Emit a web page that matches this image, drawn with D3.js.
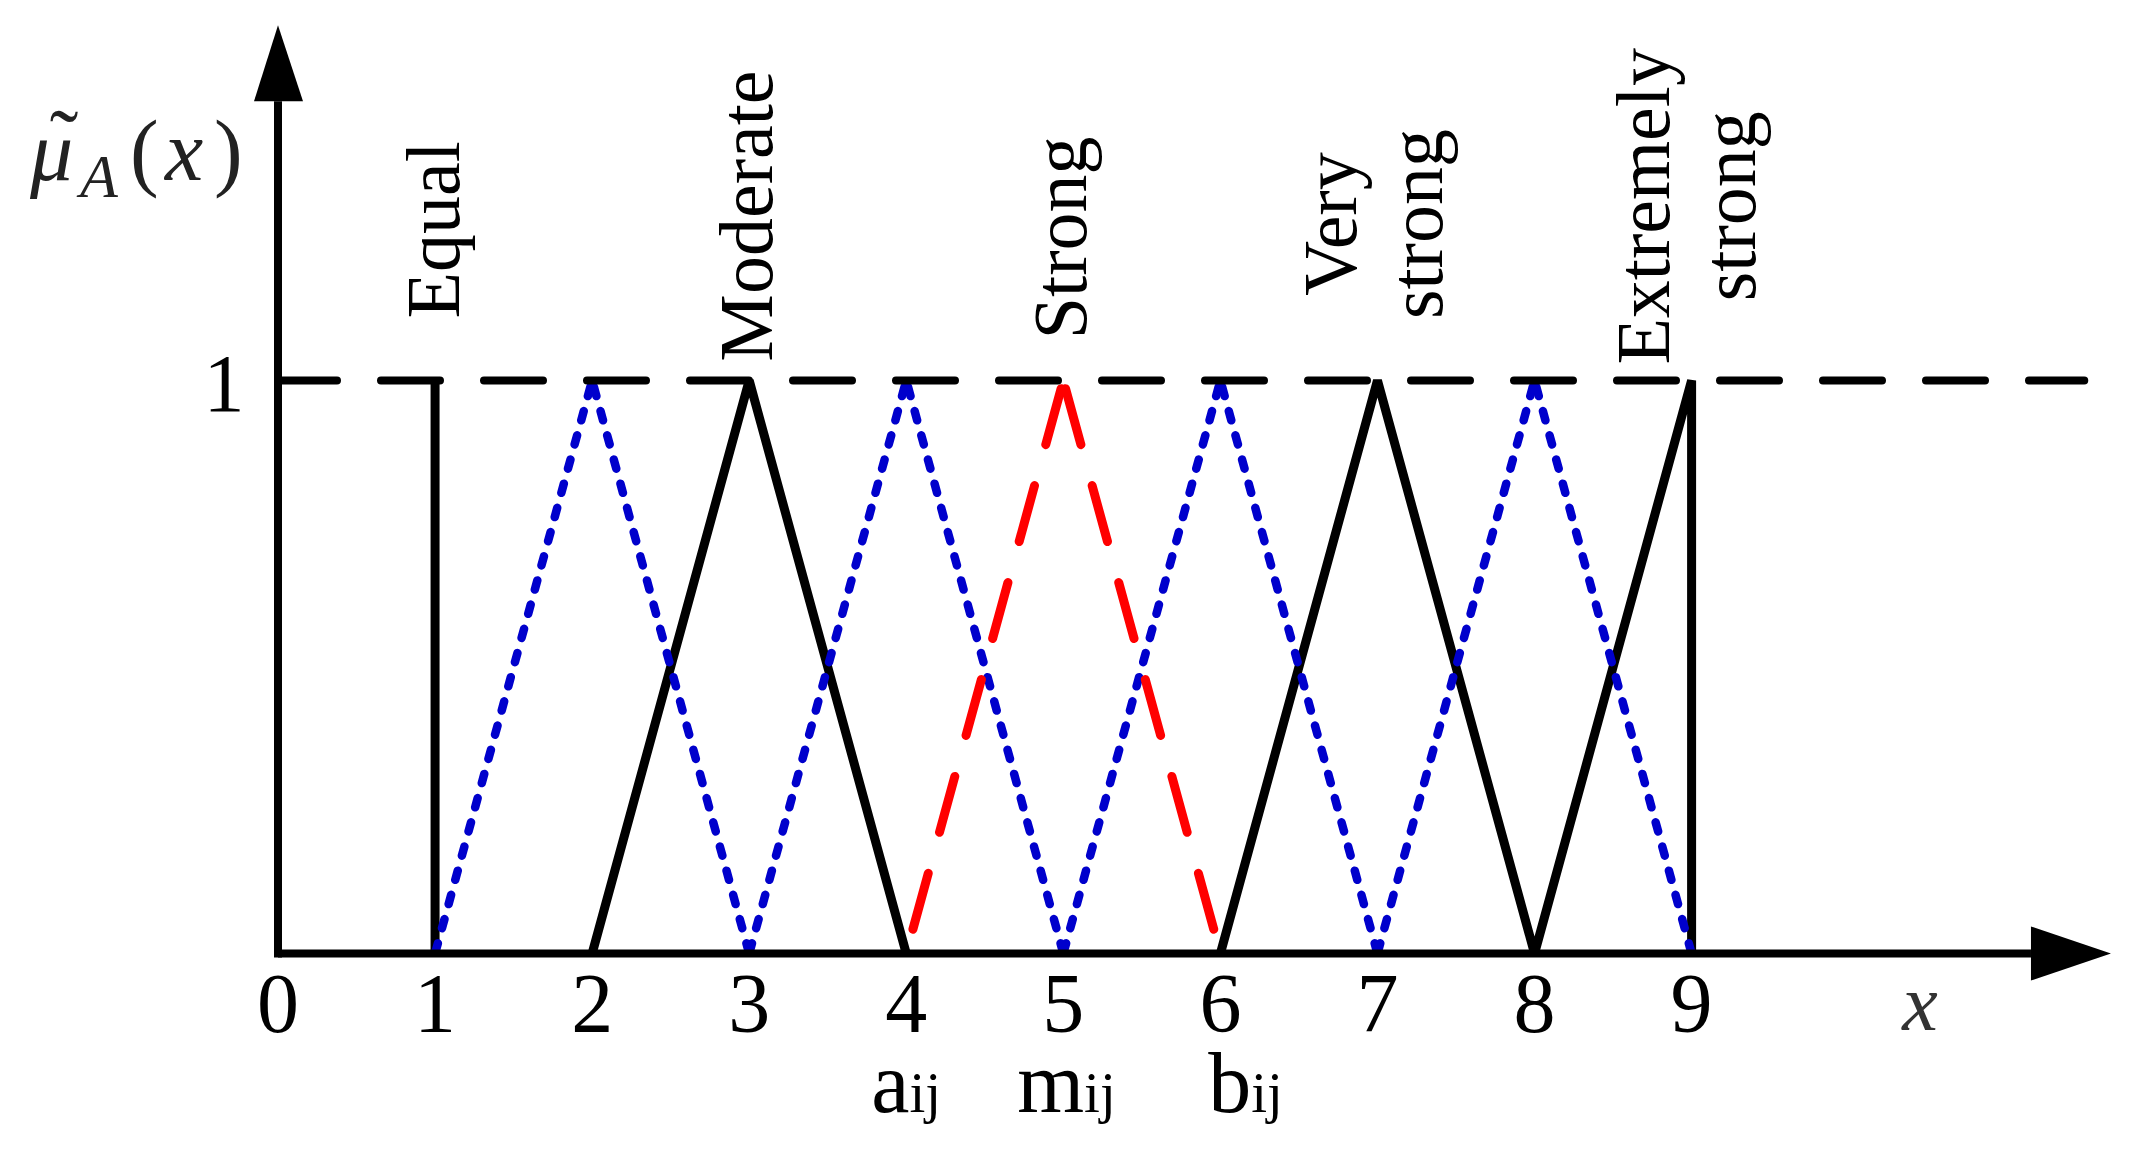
<!DOCTYPE html>
<html><head><meta charset="utf-8">
<script src="https://cdn.jsdelivr.net/npm/d3@7/dist/d3.min.js"></script>
<style>body{margin:0;background:#fff} svg{display:block}</style>
</head><body>
<script>
// ---------- data ----------
const xTicks = [0, 1, 2, 3, 4, 5, 6, 7, 8, 9];
const yTickLabel = ["1"];
const equalLine = [[1, 0], [1, 1]];
const blackTriangles = [
  [[2, 0], [3, 1], [4, 0]],
  [[6, 0], [7, 1], [8, 0], [9, 1], [9, 0]]
];
const blueLine = [[1, 0], [2, 1], [3, 0], [4, 1], [5, 0], [6, 1], [7, 0], [8, 1], [9, 0]];
const redLine = [[4, 0], [5, 1], [6, 0]];
const categoryNames = [["Equal"], ["Moderate"], ["Strong"], ["Very", "strong"], ["Extremely", "strong"]];
const categoryX = [1.15, 3.142, 5.144, 6.863, 8.856];
const categoryY = [1.263, 1.287, 1.249, 1.273, 1.304];
const paramMain = ["a", "m", "b"];
const paramSub = ["ij", "ij", "ij"];
const paramX = [4, 5.02, 6.16];
const axisEndX = 11.67, axisEndY = 1.62, refLineEndX = 11.5;

// ---------- layout ----------
const W = 2146, H = 1151;
const x = d3.scaleLinear().domain([0, 9]).range([278, 1691.6]);
const y = d3.scaleLinear().domain([0, 1]).range([953.5, 380.5]);
const serif = "'Liberation Serif', 'Times New Roman', serif";

const svg = d3.select("body").append("svg").attr("width", W).attr("height", H)
  .style("background", "#fff");

const line = d3.line().x(d => x(d[0])).y(d => y(d[1]));

// black solid triangles
svg.append("path").datum(equalLine).attr("d", line)
  .attr("fill", "none").attr("stroke", "#000").attr("stroke-width", 9);
blackTriangles.forEach(t => {
  svg.append("path").datum(t).attr("d", line)
    .attr("fill", "none").attr("stroke", "#000").attr("stroke-width", 9)
    .attr("stroke-linejoin", "bevel");
});

// blue dotted: each segment drawn from its peak downward
for (let i = 0; i < blueLine.length - 1; i++) {
  let a = blueLine[i], b = blueLine[i + 1];
  if (a[1] < b[1]) [a, b] = [b, a];
  svg.append("path").datum([a, b]).attr("d", line)
    .attr("fill", "none").attr("stroke", "#0000CC").attr("stroke-width", 8.5)
    .attr("stroke-linecap", "round")
    .attr("stroke-dasharray", "9.5 15.58").attr("stroke-dashoffset", 18.4);
}

// red dashed: two legs from the peak
const redPeak = redLine[1];
[redLine[0], redLine[2]].forEach(p => {
  svg.append("path").datum([redPeak, p]).attr("d", line)
    .attr("fill", "none").attr("stroke", "#FF0000").attr("stroke-width", 9)
    .attr("stroke-linecap", "round")
    .attr("stroke-dasharray", "58 42.5").attr("stroke-dashoffset", 92);
});

// dashed reference line at membership 1
svg.append("path").datum([[0, 1], [refLineEndX, 1]]).attr("d", line)
  .attr("fill", "none").attr("stroke", "#000").attr("stroke-width", 8)
  .attr("stroke-linecap", "round").attr("stroke-dasharray", "59 44");

// axes
svg.append("line").attr("x1", x(0)).attr("x2", x(axisEndX) - 80)
  .attr("y1", y(0)).attr("y2", y(0)).attr("stroke", "#000").attr("stroke-width", 8);
svg.append("line").attr("x1", x(0)).attr("x2", x(0))
  .attr("y1", y(0) + 4).attr("y2", y(axisEndY) + 76).attr("stroke", "#000").attr("stroke-width", 8);
// arrow heads
svg.append("path").attr("d", `M${x(axisEndX)},${y(0)} L${x(axisEndX) - 80},${y(0) - 27} L${x(axisEndX) - 80},${y(0) + 27} Z`)
  .attr("fill", "#000");
svg.append("path").attr("d", `M${x(0)},${y(axisEndY)} L${x(0) - 24},${y(axisEndY) + 76} L${x(0) + 25},${y(axisEndY) + 76} Z`)
  .attr("fill", "#000");

// tick labels
svg.append("g").selectAll("text").data(xTicks).join("text")
  .attr("x", d => x(d)).attr("y", y(0) + 78)
  .attr("text-anchor", "middle").attr("font-family", serif).attr("font-size", 84)
  .text(d => d);
svg.append("text").attr("x", x(0) - 54).attr("y", y(1) + 30)
  .attr("text-anchor", "middle").attr("font-family", serif).attr("font-size", 82)
  .text(yTickLabel[0]);

// parameter labels a_ij, m_ij, b_ij
paramMain.forEach((m, i) => {
  const t = svg.append("text").attr("x", x(paramX[i])).attr("y", y(0) + 158)
    .attr("text-anchor", "middle").attr("font-family", serif).attr("font-size", 86);
  t.append("tspan").text(m);
  t.append("tspan").attr("font-size", 57).text(paramSub[i]);
});

// category labels (rotated)
categoryNames.forEach((lines, i) => {
  lines.forEach((s, j) => {
    const bx = x(categoryX[i]) + j * 86, by = y(categoryY[i]);
    svg.append("text").attr("transform", `translate(${bx},${by}) rotate(-90)`)
      .attr("text-anchor", "middle").attr("font-family", serif).attr("font-size", 76)
      .text(s);
  });
});

// axis titles
const yl = svg.append("text").attr("y", 180).attr("font-family", serif)
  .attr("font-size", 86).attr("fill", "#222");
yl.append("tspan").attr("x", 30).attr("font-style", "italic").text("\u03BC");
yl.append("tspan").attr("x", 80).attr("dy", 17).attr("font-size", 62).attr("font-style", "italic").text("A");
yl.append("tspan").attr("x", 130).attr("dy", -17).text("(");
yl.append("tspan").attr("x", 165).attr("font-style", "italic").text("x");
yl.append("tspan").attr("x", 214).text(")");
svg.append("text").attr("x", 64).attr("y", 170).attr("text-anchor", "middle")
  .attr("font-family", serif).attr("font-size", 86).attr("fill", "#222").text("\u02DC");

svg.append("text").attr("x", 1920).attr("y", 1030).attr("text-anchor", "middle")
  .attr("font-family", serif).attr("font-style", "italic").attr("font-size", 80)
  .attr("fill", "#333").text("x");
</script>
</body></html>
